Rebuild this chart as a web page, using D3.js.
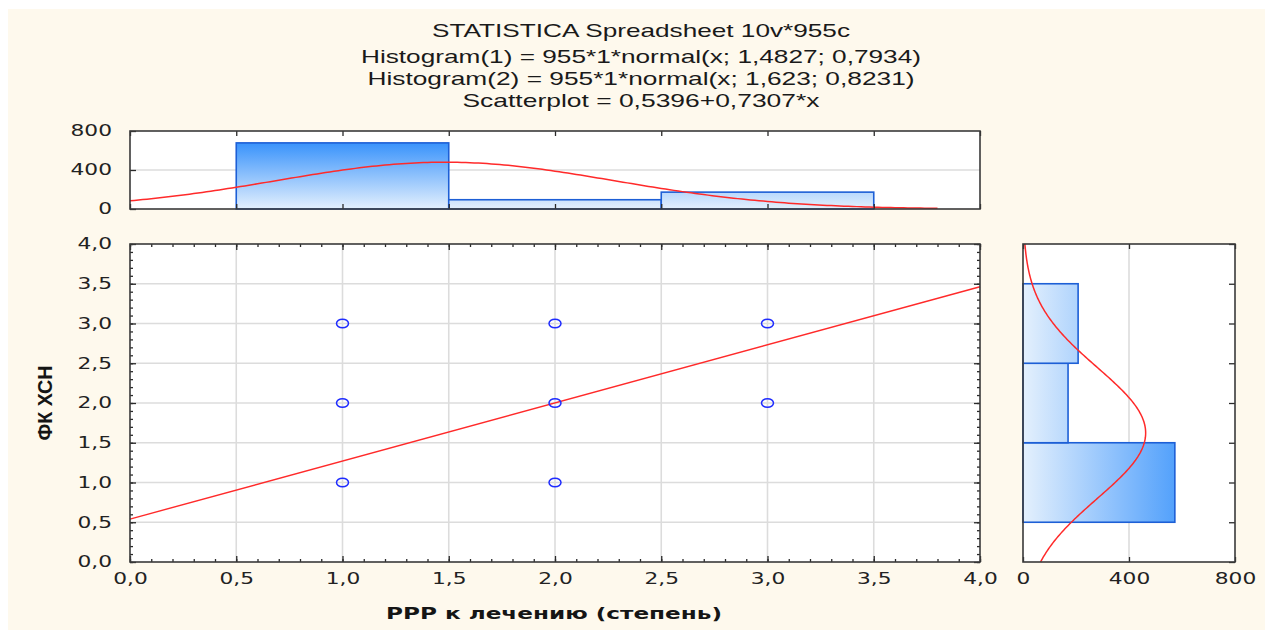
<!DOCTYPE html>
<html>
<head>
<meta charset="utf-8">
<script src="https://cdn.jsdelivr.net/npm/d3@7"></script>
<style>
  html, body { margin: 0; padding: 0; background: #ffffff; }
  svg { display: block; }
</style>
</head>
<body>
<svg id="chart" width="1265" height="630"></svg>
<script>
// data
const titleLines = [
  "STATISTICA Spreadsheet 10v*955c",
  "Histogram(1) = 955*1*normal(x; 1,4827; 0,7934)",
  "Histogram(2) = 955*1*normal(x; 1,623; 0,8231)",
  "Scatterplot = 0,5396+0,7307*x"
];
const titleWidths = [418, 560, 547, 357];

const pointsX = [1, 1, 1, 2, 2, 2, 3, 3];
const pointsY = [1, 2, 3, 1, 2, 3, 2, 3];

const binStart = [0.5, 1.5, 2.5];
const binEnd = [1.5, 2.5, 3.5];
const countsX = [678, 95, 173];   // top histogram (РРР)
const countsY = [573, 170, 208];  // right histogram (ФК ХСН)

// fitted functions stated in the title
const nTotal = 955;
const fitX = { mean: 1.4827, sd: 0.7934 };
const fitY = { mean: 1.623, sd: 0.8231 };
const regIntercept = 0.5396;
const regSlope = 0.7307;

const xLabel = "РРР к лечению (степень)";
const yLabel = "ФК ХСН";

const mainTicks = [0, 0.5, 1, 1.5, 2, 2.5, 3, 3.5, 4];
const countTicks = [0, 400, 800];

const svg = d3.select("#chart");
const stretch = 1.45;
const tickFont = "'DejaVu Sans', sans-serif";
const fmt = d => d3.format(".1f")(d).replace(".", ",");

// background
svg.append("rect").attr("x", 8).attr("y", 9).attr("width", 1257).attr("height", 621).attr("fill", "#fef9ed");

// title
svg.append("g").selectAll("text")
  .data(titleLines)
  .join("text")
  .attr("x", 641)
  .attr("y", (d, i) => [37, 63, 85, 107][i])
  .attr("text-anchor", "middle")
  .attr("font-family", "'Liberation Sans', Arial, sans-serif")
  .attr("font-size", 19)
  .attr("fill", "#1a1a1a")
  .attr("textLength", (d, i) => titleWidths[i])
  .attr("lengthAdjust", "spacingAndGlyphs")
  .text(d => d);

// scales
const x = d3.scaleLinear().domain([0, 4]).range([130, 980]);
const y = d3.scaleLinear().domain([0, 4]).range([562, 244]);
const yTop = d3.scaleLinear().domain([0, 800]).range([209, 131]);
const xRight = d3.scaleLinear().domain([0, 800]).range([1023, 1235]);

const defs = svg.append("defs");
const gTop = defs.append("linearGradient").attr("id", "gradTop")
  .attr("gradientUnits", "userSpaceOnUse")
  .attr("x1", 0).attr("y1", yTop(800)).attr("x2", 0).attr("y2", yTop(0));
gTop.append("stop").attr("offset", "0%").attr("stop-color", "#1a82fb");
gTop.append("stop").attr("offset", "100%").attr("stop-color", "#e4f0fd");
const gRight = defs.append("linearGradient").attr("id", "gradRight")
  .attr("gradientUnits", "userSpaceOnUse")
  .attr("x1", xRight(0)).attr("y1", 0).attr("x2", xRight(800)).attr("y2", 0);
gRight.append("stop").attr("offset", "0%").attr("stop-color", "#e4f0fd");
gRight.append("stop").attr("offset", "100%").attr("stop-color", "#1a82fb");

function frame(x0, y0, x1, y1) {
  svg.append("rect")
    .attr("x", x0).attr("y", y0)
    .attr("width", x1 - x0).attr("height", y1 - y0)
    .attr("fill", "#ffffff");
}

function border(x0, y0, x1, y1) {
  svg.append("rect")
    .attr("x", x0).attr("y", y0)
    .attr("width", x1 - x0).attr("height", y1 - y0)
    .attr("fill", "none")
    .attr("stroke", "#3a3a3a")
    .attr("stroke-width", 1.6);
}

function styleAxis(g) {
  g.select(".domain").remove();
  g.selectAll("line").attr("stroke", "#2a2a2a").attr("stroke-width", 1.3);
  g.selectAll("text")
    .attr("font-family", tickFont)
    .attr("font-size", 15)
    .attr("fill", "#222")
    .attr("transform", `scale(${stretch},1)`);
}

const minor = d3.range(0, 41).map(i => i / 10);

// ---------- main scatterplot ----------
frame(130, 244, 980, 562);

svg.append("g").selectAll("line")
  .data(mainTicks.slice(1, -1))
  .join("line")
  .attr("x1", d => x(d)).attr("x2", d => x(d))
  .attr("y1", y(4)).attr("y2", y(0))
  .attr("stroke", "#dcdcdc").attr("stroke-width", 1.6);
svg.append("g").selectAll("line")
  .data(mainTicks.slice(1, -1))
  .join("line")
  .attr("y1", d => y(d)).attr("y2", d => y(d))
  .attr("x1", x(0)).attr("x2", x(4))
  .attr("stroke", "#dcdcdc").attr("stroke-width", 1.6);

// minor ticks on four sides
svg.append("g").attr("transform", `translate(0,${y(0)})`)
  .call(d3.axisBottom(x).tickValues(minor).tickSize(-3).tickSizeOuter(0).tickFormat("")).call(styleAxis);
svg.append("g").attr("transform", `translate(0,${y(4)})`)
  .call(d3.axisTop(x).tickValues(minor).tickSize(-3).tickSizeOuter(0).tickFormat("")).call(styleAxis);
svg.append("g").attr("transform", `translate(${x(0)},0)`)
  .call(d3.axisLeft(y).tickValues(minor).tickSize(-3).tickSizeOuter(0).tickFormat("")).call(styleAxis);
svg.append("g").attr("transform", `translate(${x(4)},0)`)
  .call(d3.axisRight(y).tickValues(minor).tickSize(-3).tickSizeOuter(0).tickFormat("")).call(styleAxis);

// major ticks + labels
svg.append("g").attr("transform", `translate(0,${y(0)})`)
  .call(d3.axisBottom(x).tickValues(mainTicks).tickSize(-6).tickSizeOuter(0).tickPadding(11).tickFormat(fmt)).call(styleAxis);
svg.append("g").attr("transform", `translate(0,${y(4)})`)
  .call(d3.axisTop(x).tickValues(mainTicks).tickSize(-6).tickSizeOuter(0).tickFormat("")).call(styleAxis);
svg.append("g").attr("transform", `translate(${x(0)},0)`)
  .call(d3.axisLeft(y).tickValues(mainTicks).tickSize(-6).tickSizeOuter(0).tickPadding(12.4).tickFormat(fmt)).call(styleAxis);
svg.append("g").attr("transform", `translate(${x(4)},0)`)
  .call(d3.axisRight(y).tickValues(mainTicks).tickSize(-6).tickSizeOuter(0).tickFormat("")).call(styleAxis);

// regression line
svg.append("line")
  .attr("x1", x(0)).attr("y1", y(regIntercept))
  .attr("x2", x(4)).attr("y2", y(regIntercept + regSlope * 4))
  .attr("stroke", "#ff2a2a").attr("stroke-width", 1.4);

// points
svg.append("g").selectAll("ellipse")
  .data(pointsX.map((d, i) => [d, pointsY[i]]))
  .join("ellipse")
  .attr("cx", d => x(d[0])).attr("cy", d => y(d[1]))
  .attr("rx", 6).attr("ry", 4.3)
  .attr("fill", "none")
  .attr("stroke", "#1f2cff").attr("stroke-width", 1.5);

border(130, 244, 980, 562);

// ---------- top histogram ----------
frame(130, 131, 980, 209);
svg.append("line")
  .attr("x1", x(0)).attr("x2", x(4))
  .attr("y1", yTop(400)).attr("y2", yTop(400))
  .attr("stroke", "#dcdcdc").attr("stroke-width", 1.6);

svg.append("g").selectAll("rect")
  .data(countsX)
  .join("rect")
  .attr("x", (d, i) => x(binStart[i]))
  .attr("y", d => yTop(d))
  .attr("width", (d, i) => x(binEnd[i]) - x(binStart[i]))
  .attr("height", d => yTop(0) - yTop(d))
  .attr("fill", "url(#gradTop)")
  .attr("stroke", "#1d5fd6").attr("stroke-width", 1.6);

const normal = (v, m, s) => nTotal * Math.exp(-((v - m) ** 2) / (2 * s * s)) / (s * Math.sqrt(2 * Math.PI));

svg.append("path")
  .datum(d3.range(0, 3.82, 0.02))
  .attr("fill", "none")
  .attr("stroke", "#ff2a2a").attr("stroke-width", 1.5)
  .attr("d", d3.line().x(d => x(d)).y(d => yTop(normal(d, fitX.mean, fitX.sd))));

svg.append("g").attr("transform", `translate(0,${yTop(0)})`)
  .call(d3.axisBottom(x).tickValues(mainTicks).tickSize(-5).tickSizeOuter(0).tickFormat("")).call(styleAxis);
svg.append("g").attr("transform", `translate(0,${yTop(800)})`)
  .call(d3.axisTop(x).tickValues(mainTicks).tickSize(-5).tickSizeOuter(0).tickFormat("")).call(styleAxis);
svg.append("g").attr("transform", `translate(${x(0)},0)`)
  .call(d3.axisLeft(yTop).tickValues(countTicks).tickSize(-6).tickSizeOuter(0).tickPadding(12.4).tickFormat(d3.format("d"))).call(styleAxis);

border(130, 131, 980, 209);

// ---------- right histogram ----------
frame(1023, 244, 1235, 562);
svg.append("line")
  .attr("x1", xRight(400)).attr("x2", xRight(400))
  .attr("y1", y(4)).attr("y2", y(0))
  .attr("stroke", "#dcdcdc").attr("stroke-width", 1.6);

svg.append("g").selectAll("rect")
  .data(countsY)
  .join("rect")
  .attr("x", xRight(0))
  .attr("y", (d, i) => y(binEnd[i]))
  .attr("width", d => xRight(d) - xRight(0))
  .attr("height", (d, i) => y(binStart[i]) - y(binEnd[i]))
  .attr("fill", "url(#gradRight)")
  .attr("stroke", "#1d5fd6").attr("stroke-width", 1.6);

svg.append("path")
  .datum(d3.range(0, 4.001, 0.02))
  .attr("fill", "none")
  .attr("stroke", "#ff2a2a").attr("stroke-width", 1.5)
  .attr("d", d3.line().x(d => xRight(normal(d, fitY.mean, fitY.sd))).y(d => y(d)));

svg.append("g").attr("transform", `translate(${xRight(800)},0)`)
  .call(d3.axisRight(y).tickValues(mainTicks).tickSize(-6).tickSizeOuter(0).tickFormat("")).call(styleAxis);
svg.append("g").attr("transform", `translate(0,${y(4)})`)
  .call(d3.axisTop(xRight).tickValues(countTicks).tickSize(-5).tickSizeOuter(0).tickFormat("")).call(styleAxis);
svg.append("g").attr("transform", `translate(0,${y(0)})`)
  .call(d3.axisBottom(xRight).tickValues(countTicks).tickSize(-5).tickSizeOuter(0).tickPadding(11).tickFormat(d3.format("d"))).call(styleAxis);

border(1023, 244, 1235, 562);

// axis titles
svg.append("text")
  .attr("x", 554).attr("y", 619)
  .attr("text-anchor", "middle")
  .attr("font-family", "'DejaVu Sans', sans-serif")
  .attr("font-weight", "bold")
  .attr("font-size", 15)
  .attr("fill", "#151515")
  .attr("textLength", 336)
  .attr("lengthAdjust", "spacingAndGlyphs")
  .text(xLabel);

svg.append("text")
  .attr("transform", "translate(52,403) rotate(-90)")
  .attr("text-anchor", "middle")
  .attr("font-family", "'Liberation Sans Narrow', 'Liberation Sans', sans-serif")
  .attr("font-weight", "bold")
  .attr("font-size", 21)
  .attr("fill", "#151515")
  .attr("textLength", 75)
  .attr("lengthAdjust", "spacingAndGlyphs")
  .text(yLabel);
</script>
</body>
</html>
